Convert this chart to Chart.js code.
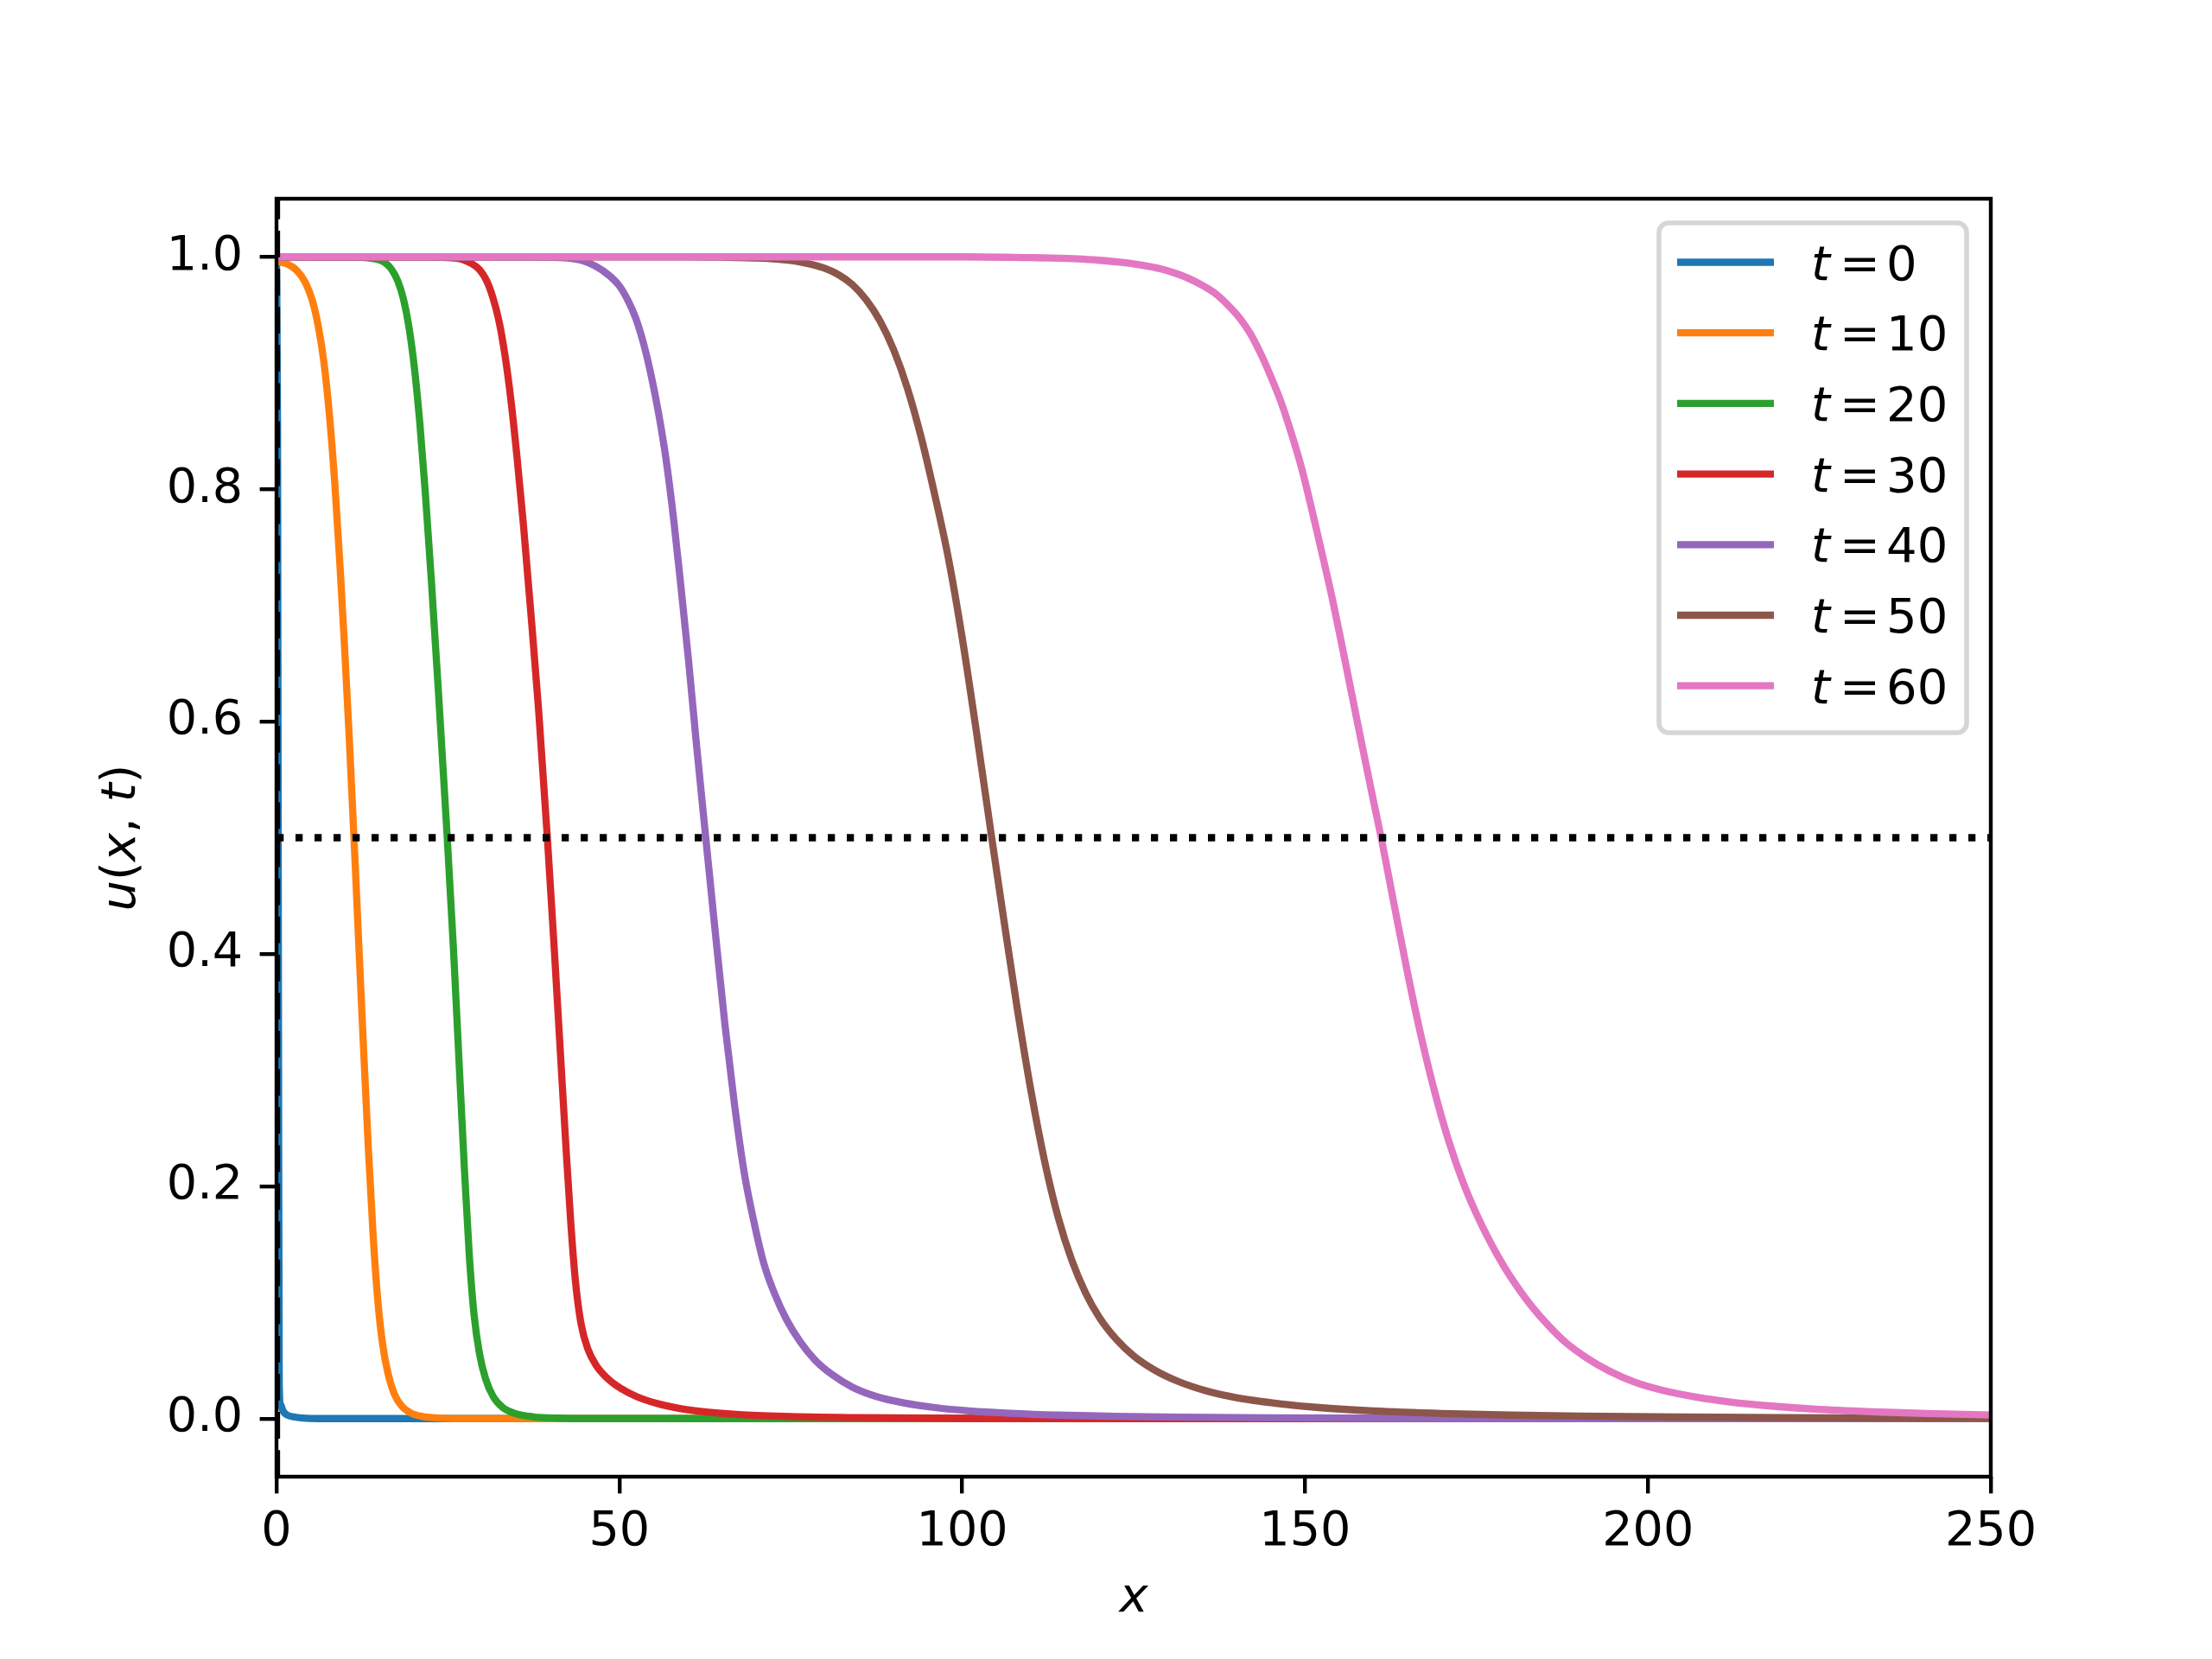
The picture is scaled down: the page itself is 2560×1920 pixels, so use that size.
<!DOCTYPE html>
<html><head><meta charset="utf-8">
<script src="https://cdn.jsdelivr.net/npm/chart.js@4.4.1/dist/chart.umd.min.js"></script>
<style>html,body{margin:0;padding:0;background:#fff;} canvas{display:block;}</style>
</head><body>
<canvas id="c" width="2560" height="1920" style="width:2560px;height:1920px"></canvas>
<script>
// ---- data ----
const seriesTimes = ['0','10','20','30','40','50','60'];

const x_t0 = [0, 0.15, 0.3, 0.4, 0.6, 1.0, 1.6, 2.5, 3.8, 6, 250];
const u_t0 = [1, 0.85, 0.3, 0.03, 0.012, 0.006, 0.003, 0.0015, 0.0005, 0, 0];

const x_t10 = [0, 1.5, 3.0, 4.2, 5.2, 6.1, 6.9, 7.7, 8.5, 9.2, 9.9, 10.6, 11.3, 12.0, 12.7, 13.4, 14.1, 14.8, 15.5, 16.3, 17.2, 18.3, 19.6, 21.3, 23.5, 27, 250];
const u_t10 = [0.996, 0.994, 0.988, 0.978, 0.963, 0.94, 0.91, 0.865, 0.805, 0.74, 0.667, 0.587, 0.5, 0.408, 0.318, 0.232, 0.157, 0.1, 0.063, 0.038, 0.021, 0.0105, 0.0048, 0.0018, 0.0005, 0, 0];

const x_t20 = [0, 10, 13, 14.6, 15.8, 16.8, 17.7, 18.5, 19.3, 20.1, 20.9, 21.7, 22.6, 23.6, 24.9, 25.8, 26.6, 27.4, 28.1, 28.8, 29.6, 30.5, 31.6, 33.0, 35.0, 37.5, 41, 46, 250];
const u_t20 = [1, 1, 0.9993, 0.998, 0.995, 0.989, 0.979, 0.964, 0.94, 0.905, 0.857, 0.797, 0.72, 0.627, 0.5, 0.405, 0.31, 0.215, 0.142, 0.09, 0.056, 0.034, 0.019, 0.0095, 0.004, 0.0015, 0.0004, 0, 0];

const x_t30 = [0, 22, 25, 27, 28.5, 29.6, 30.6, 31.5, 32.4, 33.3, 34.2, 35.1, 36.0, 37.0, 38.2, 39.5, 40.5, 41.4, 42.2, 42.9, 43.6, 44.4, 45.4, 46.6, 48.2, 50.2, 52.5, 55.5, 59, 63, 68, 75, 85, 100, 120, 250];
const u_t30 = [1, 1, 0.9993, 0.998, 0.994, 0.989, 0.98, 0.966, 0.946, 0.916, 0.876, 0.826, 0.77, 0.7, 0.612, 0.5, 0.405, 0.315, 0.235, 0.17, 0.118, 0.082, 0.06, 0.046, 0.035, 0.026, 0.019, 0.013, 0.0085, 0.0055, 0.0033, 0.0018, 0.0008, 0.0002, 0, 0];

const x_t40 = [0, 38, 42, 44.5, 46.5, 48.5, 50, 51.2, 52.4, 53.5, 54.6, 55.7, 56.8, 57.9, 59.0, 60.1, 61.2, 62.6, 64.0, 65.4, 66.8, 68.2, 69.6, 71.0, 72.6, 74.4, 76.4, 78.6, 81, 84, 87.5, 91.5, 96, 101, 107, 114, 122, 132, 145, 165, 190, 250];
const u_t40 = [1, 0.9998, 0.9992, 0.997, 0.992, 0.984, 0.975, 0.963, 0.947, 0.926, 0.899, 0.866, 0.826, 0.775, 0.715, 0.652, 0.583, 0.5, 0.418, 0.339, 0.27, 0.212, 0.17, 0.135, 0.108, 0.085, 0.066, 0.05, 0.038, 0.027, 0.019, 0.0135, 0.0095, 0.0067, 0.0046, 0.003, 0.002, 0.0012, 0.0006, 0.0002, 0, 0];

const x_t50 = [0, 60, 66, 70, 73, 76, 78, 80, 82, 84, 86, 88, 90, 92, 94, 96, 98, 100, 102, 104.3, 106, 108, 110, 112, 114, 116, 118, 120, 122.5, 125, 128, 131.5, 135.5, 140, 146, 152, 160, 170, 180, 190, 205, 220, 235, 250];
const u_t50 = [1, 1, 0.9995, 0.999, 0.998, 0.996, 0.9935, 0.99, 0.9845, 0.976, 0.963, 0.945, 0.92, 0.887, 0.845, 0.795, 0.74, 0.672, 0.594, 0.5, 0.432, 0.354, 0.283, 0.222, 0.173, 0.136, 0.108, 0.087, 0.068, 0.054, 0.042, 0.032, 0.024, 0.018, 0.013, 0.0095, 0.0066, 0.0044, 0.003, 0.0021, 0.0013, 0.0008, 0.0005, 0.0003];

const x_t60 = [0, 100, 110, 113, 117, 120, 123, 126, 129, 131, 133, 135, 137, 139, 140.5, 142, 143.5, 145, 146.5, 148, 149.5, 151, 152.5, 154, 155.5, 157, 158.5, 160, 161.1, 163, 165, 167, 169, 171, 173, 175, 177, 179, 181, 183, 185.5, 188, 191, 194.5, 198, 202, 207, 212, 218, 225, 234, 242, 250];
const u_t60 = [1, 1, 0.9993, 0.999, 0.9982, 0.997, 0.9954, 0.993, 0.9895, 0.986, 0.9815, 0.9755, 0.968, 0.957, 0.947, 0.934, 0.917, 0.897, 0.875, 0.848, 0.818, 0.782, 0.744, 0.705, 0.662, 0.618, 0.574, 0.531, 0.5, 0.442, 0.382, 0.327, 0.279, 0.238, 0.204, 0.176, 0.152, 0.131, 0.113, 0.097, 0.08, 0.0655, 0.0525, 0.0405, 0.0315, 0.0245, 0.0185, 0.0143, 0.0108, 0.0079, 0.0056, 0.0042, 0.0031];

const halfX = [0, 250];
const halfU = [0.5, 0.5];
const frontX = [0, 0];
const frontU = [-0.05, 1.05];

const xTicks = [0, 50, 100, 150, 200, 250];
const yTicks = [0.0, 0.2, 0.4, 0.6, 0.8, 1.0];

// ---- styles ----
const colors = ['#1f77b4','#ff7f0e','#2ca02c','#d62728','#9467bd','#8c564b','#e377c2'];
const LW = 8.3;
const FONT = 'DejaVu Sans';

const xs = [x_t0, x_t10, x_t20, x_t30, x_t40, x_t50, x_t60];
const us = [u_t0, u_t10, u_t20, u_t30, u_t40, u_t50, u_t60];
const pts = (xa, ya) => xa.map((x, i) => ({x: x, y: ya[i]}));

const datasets = seriesTimes.map((t, i) => ({
  label: 't = ' + t,
  data: pts(xs[i], us[i]),
  borderColor: colors[i],
  backgroundColor: colors[i],
  borderWidth: LW,
  pointRadius: 0,
  fill: false,
  cubicInterpolationMode: 'monotone',
  borderJoinStyle: 'round',
  clip: 0,
  order: 20 - i
}));
datasets.push({label: '_half', data: pts(halfX, halfU), borderColor: '#000', borderWidth: LW,
  borderDash: [8.3, 13.7], borderCapStyle: 'butt', pointRadius: 0, fill: false, clip: 0, order: 1, tension: 0});
datasets.push({label: '_front', data: pts(frontX, frontU), borderColor: '#000', borderWidth: LW,
  borderDash: [30.8, 13.3], borderCapStyle: 'butt', pointRadius: 0, fill: false, clip: 0, order: 0, tension: 0});

const decor = {
  id: 'decor',
  beforeDraw(chart) {
    const ctx = chart.ctx;
    ctx.save(); ctx.fillStyle = '#fff'; ctx.fillRect(0, 0, chart.width, chart.height); ctx.restore();
  },
  afterDatasetsDraw(chart) {
    const ctx = chart.ctx, a = chart.chartArea;
    ctx.save();
    // spines
    ctx.strokeStyle = '#000'; ctx.lineWidth = 4.4;
    ctx.strokeRect(a.left, a.top, a.right - a.left, a.bottom - a.top);

    // axis labels
    ctx.fillStyle = '#000';
    ctx.textBaseline = 'alphabetic';
    ctx.font = 'italic 56px "' + FONT + '"';
    ctx.textAlign = 'center';
    ctx.fillText('x', (a.left + a.right) / 2, a.bottom + 156);

    // y label: u(x, t)
    const parts = [['u', true], ['(', false], ['x', true], [', ', false], ['t', true], [')', false]];
    const fontFor = it => (it ? 'italic ' : '') + '56px "' + FONT + '"';
    let total = 0;
    const widths = parts.map(p => { ctx.font = fontFor(p[1]); const w = ctx.measureText(p[0]).width; total += w; return w; });
    ctx.save();
    ctx.translate(156, (a.top + a.bottom) / 2);
    ctx.rotate(-Math.PI / 2);
    ctx.textAlign = 'left';
    let px = -total / 2;
    parts.forEach((p, i) => { ctx.font = fontFor(p[1]); ctx.fillText(p[0], px, 0); px += widths[i]; });
    ctx.restore();

    // legend
    const lx = 1920, ly = 258, lw = a.right - 28 - lx, lh = 590, r = 11;
    ctx.beginPath();
    ctx.moveTo(lx + r, ly);
    ctx.arcTo(lx + lw, ly, lx + lw, ly + lh, r);
    ctx.arcTo(lx + lw, ly + lh, lx, ly + lh, r);
    ctx.arcTo(lx, ly + lh, lx, ly, r);
    ctx.arcTo(lx, ly, lx + lw, ly, r);
    ctx.closePath();
    ctx.fillStyle = 'rgba(255,255,255,0.8)';
    ctx.fill();
    ctx.strokeStyle = 'rgba(204,204,204,0.8)';
    ctx.lineWidth = 5.6;
    ctx.stroke();

    seriesTimes.forEach((t, i) => {
      const cy = 303.5 + i * 81.7;
      ctx.beginPath();
      ctx.strokeStyle = colors[i];
      ctx.lineWidth = LW;
      ctx.lineCap = 'butt';
      ctx.moveTo(1941, cy); ctx.lineTo(2053, cy);
      ctx.stroke();
      ctx.fillStyle = '#000';
      ctx.textAlign = 'left';
      ctx.font = 'italic 56px "' + FONT + '"';
      ctx.fillText('t', 2096, cy + 20);
      ctx.font = '56px "' + FONT + '"';
      ctx.fillText('=', 2129, cy + 20);
      ctx.fillText(t, 2183, cy + 20);
    });
    ctx.restore();
  }
};

Chart.defaults.font.family = FONT;
Chart.defaults.color = '#000';

new Chart(document.getElementById('c'), {
  type: 'line',
  data: { datasets: datasets },
  options: {
    responsive: false,
    devicePixelRatio: 1,
    animation: false,
    events: [],
    layout: { padding: { left: 0, top: 230, right: 256, bottom: 0 } },
    plugins: { legend: { display: false }, tooltip: { enabled: false }, title: { display: false } },
    scales: {
      x: {
        type: 'linear', min: 0, max: 250,
        afterBuildTicks: s => { s.ticks = xTicks.map(v => ({value: v})); },
        afterFit: s => { s.height = 211; },
        grid: { display: true, drawOnChartArea: false, drawTicks: true, tickLength: 19.4, lineWidth: 4.4, color: '#000' },
        border: { display: false },
        ticks: { font: { size: 55.6 }, color: '#000', padding: 12, maxRotation: 0, autoSkip: false,
                 callback: v => String(v) }
      },
      y: {
        type: 'linear', min: -0.05, max: 1.05,
        afterBuildTicks: s => { s.ticks = yTicks.map(v => ({value: v})); },
        afterFit: s => { s.width = 320; },
        grid: { display: true, drawOnChartArea: false, drawTicks: true, tickLength: 19.4, lineWidth: 4.4, color: '#000' },
        border: { display: false },
        ticks: { font: { size: 55.6 }, color: '#000', padding: 19.4, autoSkip: false,
                 callback: v => Number(v).toFixed(1) }
      }
    }
  },
  plugins: [decor]
});
</script>
</body></html>
